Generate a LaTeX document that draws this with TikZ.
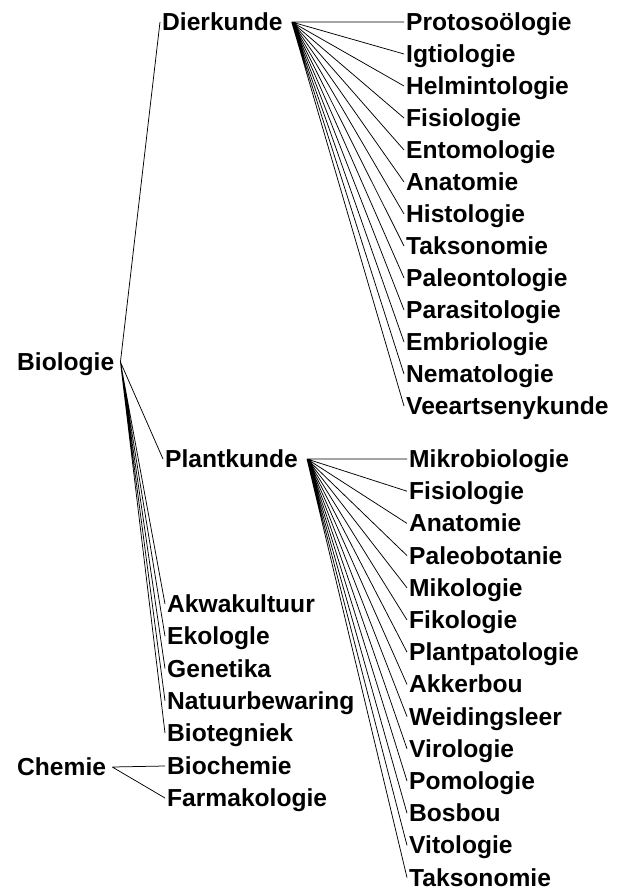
\documentclass[tikz,border=0pt]{standalone}
\usepackage{fontspec}
\setmainfont{Liberation Sans}
\usetikzlibrary{positioning}

\begin{document}
\begin{tikzpicture}[
  x=1pt, y=-1pt,
  term/.style={anchor=west, inner sep=2pt, text height=17pt, text depth=0pt,
    font=\fontsize{24.6}{28}\selectfont\bfseries},
  branch/.style={line width=0.75pt, draw=black}
]
\useasboundingbox (0,0) rectangle (626,890);

% main fields
\node[term] (bio) at (15,362) {Biologie};
\node[term] (dier) at (160,22) {Dierkunde};
\node[term] (plant) at (163,459) {Plantkunde};
\node[term] (chem) at (15,767) {Chemie};

% Dierkunde branches
\node[term] (proto) at (404,22) {Protosoölogie};
\node[term, below=32pt of proto.west, anchor=west] (igtio) {Igtiologie};
\node[term, below=32pt of igtio.west, anchor=west] (helm) {Helmintologie};
\node[term, below=32pt of helm.west, anchor=west] (dfisio) {Fisiologie};
\node[term, below=32pt of dfisio.west, anchor=west] (ento) {Entomologie};
\node[term, below=32pt of ento.west, anchor=west] (danat) {Anatomie};
\node[term, below=32pt of danat.west, anchor=west] (histo) {Histologie};
\node[term, below=32pt of histo.west, anchor=west] (dtakso) {Taksonomie};
\node[term, below=32pt of dtakso.west, anchor=west] (paleon) {Paleontologie};
\node[term, below=32pt of paleon.west, anchor=west] (para) {Parasitologie};
\node[term, below=32pt of para.west, anchor=west] (embrio) {Embriologie};
\node[term, below=32pt of embrio.west, anchor=west] (nema) {Nematologie};
\node[term, below=32pt of nema.west, anchor=west] (veeart) {Veeartsenykunde};

% Plantkunde branches
\node[term] (mikro) at (407,459) {Mikrobiologie};
\node[term, below=32.2pt of mikro.west, anchor=west] (pfisio) {Fisiologie};
\node[term, below=32.2pt of pfisio.west, anchor=west] (panat) {Anatomie};
\node[term, below=32.2pt of panat.west, anchor=west] (paleob) {Paleobotanie};
\node[term, below=32.2pt of paleob.west, anchor=west] (miko) {Mikologie};
\node[term, below=32.2pt of miko.west, anchor=west] (fiko) {Fikologie};
\node[term, below=32.2pt of fiko.west, anchor=west] (ppato) {Plantpatologie};
\node[term, below=32.2pt of ppato.west, anchor=west] (akker) {Akkerbou};
\node[term, below=32.2pt of akker.west, anchor=west] (weid) {Weidingsleer};
\node[term, below=32.2pt of weid.west, anchor=west] (viro) {Virologie};
\node[term, below=32.2pt of viro.west, anchor=west] (pomo) {Pomologie};
\node[term, below=32.2pt of pomo.west, anchor=west] (bos) {Bosbou};
\node[term, below=32.2pt of bos.west, anchor=west] (vito) {Vitologie};
\node[term, below=32.2pt of vito.west, anchor=west] (ptakso) {Taksonomie};

% other Biologie branches
\node[term] (akwa) at (165,604) {Akwakultuur};
\node[term, below=32.25pt of akwa.west, anchor=west] (eko) {Ekologle};
\node[term, below=32.25pt of eko.west, anchor=west] (gene) {Genetika};
\node[term, below=32.25pt of gene.west, anchor=west] (natuur) {Natuurbewaring};
\node[term, below=32.25pt of natuur.west, anchor=west] (biotek) {Biotegniek};

% Chemie branches
\node[term, below=33pt of biotek.west, anchor=west] (biochem) {Biochemie};
\node[term, below=32pt of biochem.west, anchor=west] (farma) {Farmakologie};

\coordinate (biohub) at ([xshift=4pt]bio.east);
\coordinate (dierhub) at ([xshift=7pt]dier.east);
\coordinate (planthub) at ([xshift=7pt]plant.east);
\coordinate (chemhub) at ([xshift=4pt]chem.east);

\draw[branch] (biohub) -- (dier.west) (biohub) -- (plant.west)
  (biohub) -- (akwa.west) (biohub) -- (eko.west) (biohub) -- (gene.west)
  (biohub) -- (natuur.west) (biohub) -- (biotek.west);
\draw[branch] (dierhub) -- (proto.west) (dierhub) -- (igtio.west)
  (dierhub) -- (helm.west) (dierhub) -- (dfisio.west) (dierhub) -- (ento.west)
  (dierhub) -- (danat.west) (dierhub) -- (histo.west) (dierhub) -- (dtakso.west)
  (dierhub) -- (paleon.west) (dierhub) -- (para.west) (dierhub) -- (embrio.west)
  (dierhub) -- (nema.west) (dierhub) -- (veeart.west);
\draw[branch] (planthub) -- (mikro.west) (planthub) -- (pfisio.west)
  (planthub) -- (panat.west) (planthub) -- (paleob.west) (planthub) -- (miko.west)
  (planthub) -- (fiko.west) (planthub) -- (ppato.west) (planthub) -- (akker.west)
  (planthub) -- (weid.west) (planthub) -- (viro.west) (planthub) -- (pomo.west)
  (planthub) -- (bos.west) (planthub) -- (vito.west) (planthub) -- (ptakso.west);
\draw[branch] (chemhub) -- (biochem.west) (chemhub) -- (farma.west);
\end{tikzpicture}
\end{document}
